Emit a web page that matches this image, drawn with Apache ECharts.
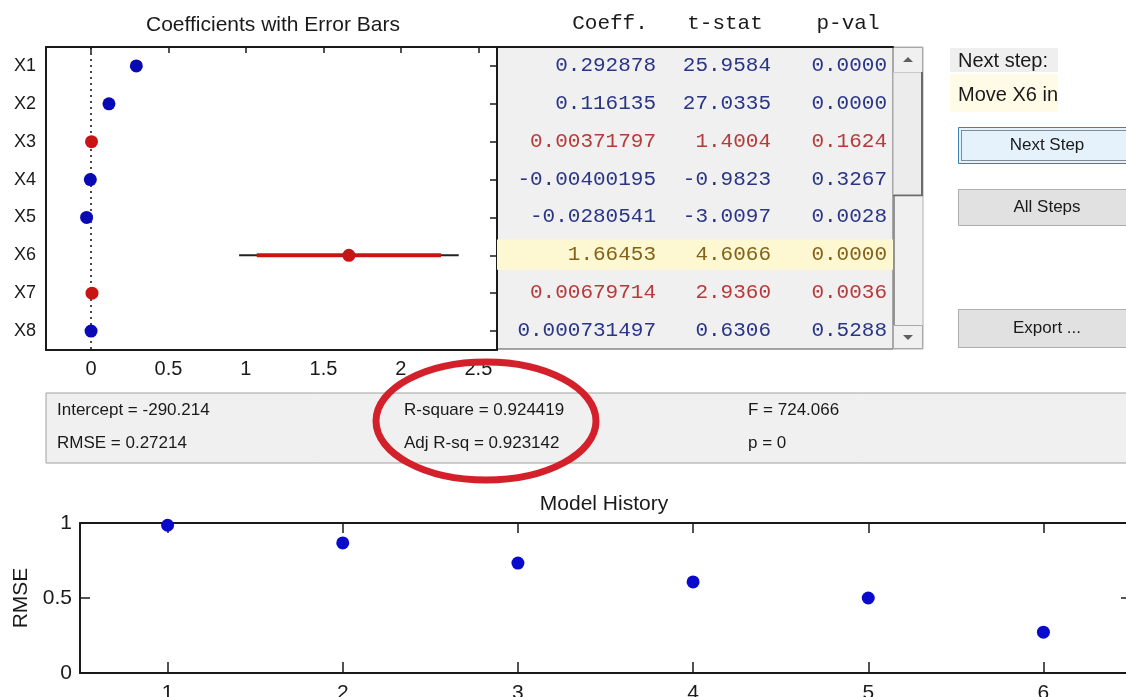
<!DOCTYPE html>
<html><head><meta charset="utf-8">
<script src="https://cdn.jsdelivr.net/npm/echarts@6/dist/echarts.min.js"></script>
<style>html,body{margin:0;padding:0;background:#fff;overflow:hidden}#c{width:1126px;height:697px}</style>
</head><body><div id="c"></div>
<script>
// ---------- data ----------
const varNames = ['X1','X2','X3','X4','X5','X6','X7','X8'];
const coeff = [0.292878, 0.116135, 0.00371797, -0.00400195, -0.0280541, 1.66453, 0.00679714, 0.000731497];
const tStat = [25.9584, 27.0335, 1.4004, -0.9823, -3.0097, 4.6066, 2.9360, 0.6306];
const pVal = [0.0000, 0.0000, 0.1624, 0.3267, 0.0028, 0.0000, 0.0036, 0.5288];
const inModel = [true, true, false, true, true, false, false, true];
const ci95Low  = [0.2708, 0.1077, -0.0015, -0.0120, -0.0463, 0.956, 0.0023, -0.0015];
const ci95High = [0.3150, 0.1245, 0.0089, 0.0040, -0.0098, 2.373, 0.0113, 0.0030];
const ci90Low  = [0.2743, 0.1091, -0.0007, -0.0107, -0.0434, 1.070, 0.0030, -0.0012];
const ci90High = [0.3114, 0.1232, 0.0081, 0.0027, -0.0127, 2.259, 0.0106, 0.0026];
const nextStepVar = 'X6';
const coefTicks = [0, 0.5, 1, 1.5, 2, 2.5];
const tableHeaders = ['Coeff.', 't-stat', 'p-val'];
const interceptVal = '-290.214';
const rmseVal = '0.27214';
const rSquareVal = '0.924419';
const adjRsqVal = '0.923142';
const fStatVal = '724.066';
const pModelVal = '0';
const historySteps = [1, 2, 3, 4, 5, 6];
const historyRMSE = [0.985, 0.867, 0.733, 0.607, 0.50, 0.27214];
const historyTicks = [1, 2, 3, 4, 5, 6];

// ---------- styles ----------
const BLUE = '#0a0ab4', RED = '#c81414';
const TXT_BLUE = '#2a3586', TXT_RED = '#b53a3a', TXT_NEXT = '#85621a';
const SANS = "'Liberation Sans',Arial,sans-serif";
const MONO = "'Courier New','Liberation Mono',monospace";
const colRightOffset = [93, 76, 60];
const headerOffset = [47, 30, 21];
const nextIdx = varNames.indexOf(nextStepVar);

const cellText = [
  coeff.map(v => String(v)),
  tStat.map(v => v.toFixed(4)),
  pVal.map(v => v.toFixed(4))
];
const tableData = [];
varNames.forEach((n, i) => tableHeaders.forEach((h, j) => tableData.push([j, i])));

const axisLineBlack = {show: true, onZero: false, lineStyle: {color: '#1a1a1a', width: 2}};
const tickStyle = {color: '#1a1a1a', width: 1.5};

const chart = echarts.init(document.getElementById('c'));

const graphics = [
  // info panel
  {type: 'rect', shape: {x: 46, y: 393, width: 1100, height: 70}, style: {fill: '#f0f0f0', stroke: '#a0a0a0', lineWidth: 1}},
  {type: 'text', x: 57, y: 410, style: {text: 'Intercept = ' + interceptVal, font: '17px ' + SANS, fill: '#1a1a1a', verticalAlign: 'middle'}},
  {type: 'text', x: 57, y: 443, style: {text: 'RMSE = ' + rmseVal, font: '17px ' + SANS, fill: '#1a1a1a', verticalAlign: 'middle'}},
  {type: 'text', x: 404, y: 410, style: {text: 'R-square = ' + rSquareVal, font: '17px ' + SANS, fill: '#1a1a1a', verticalAlign: 'middle'}},
  {type: 'text', x: 404, y: 443, style: {text: 'Adj R-sq = ' + adjRsqVal, font: '17px ' + SANS, fill: '#1a1a1a', verticalAlign: 'middle'}},
  {type: 'text', x: 748, y: 410, style: {text: 'F = ' + fStatVal, font: '17px ' + SANS, fill: '#1a1a1a', verticalAlign: 'middle'}},
  {type: 'text', x: 748, y: 443, style: {text: 'p = ' + pModelVal, font: '17px ' + SANS, fill: '#1a1a1a', verticalAlign: 'middle'}},
  // red annotation ellipse
  {type: 'ellipse', z: 100, shape: {cx: 486, cy: 421, rx: 110, ry: 59}, style: {fill: 'none', stroke: '#d3202a', lineWidth: 7}},
  // scrollbar
  {type: 'rect', shape: {x: 893, y: 47, width: 30, height: 302}, style: {fill: '#f0f0f0', stroke: '#b0b0b0', lineWidth: 1}},
  {type: 'rect', shape: {x: 893.5, y: 47.5, width: 29, height: 25}, style: {fill: '#f0f0f0', stroke: '#a8a8a8', lineWidth: 1}},
  {type: 'polygon', shape: {points: [[903, 62], [913, 62], [908, 57]]}, style: {fill: '#606060'}},
  {type: 'rect', shape: {x: 893.5, y: 72.5, width: 28, height: 122}, style: {fill: '#ececec', stroke: '#c8c8c8', lineWidth: 1}},
  {type: 'line', shape: {x1: 922, y1: 72, x2: 922, y2: 196}, style: {stroke: '#6a6a6a', lineWidth: 2}},
  {type: 'line', shape: {x1: 893, y1: 195.5, x2: 923, y2: 195.5}, style: {stroke: '#6a6a6a', lineWidth: 1.5}},
  {type: 'line', shape: {x1: 894, y1: 196, x2: 894, y2: 325}, style: {stroke: '#7a7a7a', lineWidth: 1.5}},
  {type: 'rect', shape: {x: 893.5, y: 325.5, width: 29, height: 23}, style: {fill: '#f0f0f0', stroke: '#a8a8a8', lineWidth: 1}},
  {type: 'polygon', shape: {points: [[903, 335], [913, 335], [908, 340]]}, style: {fill: '#606060'}},
  // right panel
  {type: 'rect', shape: {x: 950, y: 48, width: 108, height: 24}, style: {fill: '#efefef'}},
  {type: 'text', x: 958, y: 61, style: {text: 'Next step:', font: '20px ' + SANS, fill: '#1a1a1a', verticalAlign: 'middle'}},
  {type: 'rect', shape: {x: 950, y: 74, width: 108, height: 38}, style: {fill: '#fffbe6'}},
  {type: 'text', x: 958, y: 95, style: {text: 'Move ' + nextStepVar + ' in', font: '20px ' + SANS, fill: '#1a1a1a', verticalAlign: 'middle'}},
  {type: 'rect', shape: {x: 958.5, y: 127.5, width: 180, height: 36}, style: {fill: '#e5f1fb', stroke: '#3c7fb1', lineWidth: 1}},
  {type: 'rect', shape: {x: 961.5, y: 130.5, width: 175, height: 30}, style: {fill: 'none', stroke: '#222', lineWidth: 1, lineDash: [1, 1]}},
  {type: 'text', x: 1047, y: 145, style: {text: 'Next Step', font: '17px ' + SANS, fill: '#1a1a1a', align: 'center', verticalAlign: 'middle'}},
  {type: 'rect', shape: {x: 958.5, y: 189.5, width: 180, height: 36}, style: {fill: '#e1e1e1', stroke: '#adadad', lineWidth: 1}},
  {type: 'text', x: 1047, y: 207, style: {text: 'All Steps', font: '17px ' + SANS, fill: '#1a1a1a', align: 'center', verticalAlign: 'middle'}},
  {type: 'rect', shape: {x: 958.5, y: 309.5, width: 180, height: 38}, style: {fill: '#e1e1e1', stroke: '#adadad', lineWidth: 1}},
  {type: 'text', x: 1047, y: 328, style: {text: 'Export ...', font: '17px ' + SANS, fill: '#1a1a1a', align: 'center', verticalAlign: 'middle'}}
];

const option = {
  animation: false,
  backgroundColor: '#fff',
  title: [
    {text: 'Coefficients with Error Bars', left: 268, top: 10, textAlign: 'center',
     textStyle: {fontFamily: SANS, fontSize: 21, fontWeight: 'normal', color: '#1a1a1a'}},
    {text: 'Model History', left: 599, top: 489, textAlign: 'center',
     textStyle: {fontFamily: SANS, fontSize: 21, fontWeight: 'normal', color: '#1a1a1a'}}
  ],
  grid: [
    {left: 46, top: 47, width: 451, height: 303, containLabel: false, outerBoundsMode: 'none'},
    {left: 497, top: 47, width: 396, height: 302, show: true, backgroundColor: '#f0f0f0', borderColor: '#505050', borderWidth: 1, outerBoundsMode: 'none'},
    {left: 80, top: 523, width: 1051, height: 150, containLabel: false, outerBoundsMode: 'none'}
  ],
  xAxis: [
    {gridIndex: 0, type: 'value', min: -0.29, max: 2.62, position: 'bottom', axisLine: axisLineBlack,
     axisTick: {show: false}, splitLine: {show: false},
     axisLabel: {customValues: coefTicks, margin: 9, color: '#1a1a1a', fontFamily: SANS, fontSize: 20}},
    {gridIndex: 0, type: 'value', min: -0.29, max: 2.62, position: 'top', axisLine: axisLineBlack,
     axisTick: {show: true, inside: true, length: 6, customValues: coefTicks, lineStyle: tickStyle},
     axisLabel: {show: false}, splitLine: {show: false}},
    {gridIndex: 1, type: 'category', data: tableHeaders, position: 'top', axisLine: axisLineBlack,
     axisTick: {show: false}, axisLabel: {show: false}, splitLine: {show: false}},
    {gridIndex: 2, type: 'value', min: 0.5, max: 6.5, position: 'bottom', axisLine: axisLineBlack,
     axisTick: {show: true, inside: true, length: 11, customValues: historyTicks, lineStyle: tickStyle},
     axisLabel: {customValues: historyTicks, margin: 10, color: '#1a1a1a', fontFamily: SANS, fontSize: 21},
     splitLine: {show: false}},
    {gridIndex: 2, type: 'value', min: 0.5, max: 6.5, position: 'top', axisLine: axisLineBlack,
     axisTick: {show: true, inside: true, length: 10, customValues: historyTicks, lineStyle: tickStyle},
     axisLabel: {show: false}, splitLine: {show: false}}
  ],
  yAxis: [
    {gridIndex: 0, type: 'category', data: varNames, inverse: true, position: 'left', axisLine: axisLineBlack,
     axisTick: {show: false}, axisLabel: {margin: 10, color: '#1a1a1a', fontFamily: SANS, fontSize: 18}},
    {gridIndex: 0, type: 'category', data: varNames, inverse: true, position: 'right', axisLine: axisLineBlack,
     axisTick: {show: true, inside: true, alignWithLabel: true, length: 7, lineStyle: tickStyle},
     axisLabel: {show: false}},
    {gridIndex: 1, type: 'category', data: varNames, inverse: true, show: false},
    {gridIndex: 2, type: 'value', min: 0, max: 1, interval: 0.5, position: 'left', axisLine: axisLineBlack,
     axisTick: {show: true, inside: true, length: 10, lineStyle: tickStyle},
     axisLabel: {margin: 8, color: '#1a1a1a', fontFamily: SANS, fontSize: 21},
     splitLine: {show: false},
     name: 'RMSE', nameLocation: 'middle', nameRotate: 90, nameGap: 46,
     nameTextStyle: {fontFamily: SANS, fontSize: 21, color: '#1a1a1a'}},
    {gridIndex: 2, type: 'value', min: 0, max: 1, interval: 0.5, position: 'right', axisLine: axisLineBlack,
     axisTick: {show: true, inside: true, length: 10, lineStyle: tickStyle},
     axisLabel: {show: false}, splitLine: {show: false}}
  ],
  series: [
    // error bars
    {type: 'custom', xAxisIndex: 0, yAxisIndex: 0, z: 3,
     data: varNames.map((n, i) => [ci95Low[i], ci95High[i], ci90Low[i], ci90High[i], i]),
     encode: {x: [0, 1, 2, 3], y: 4},
     renderItem(params, api) {
       const row = api.value(4);
       const a = api.coord([api.value(0), row]), b = api.coord([api.value(1), row]);
       const c = api.coord([api.value(2), row]), d = api.coord([api.value(3), row]);
       const col = inModel[params.dataIndex] ? BLUE : RED;
       return {type: 'group', children: [
         {type: 'line', shape: {x1: a[0], y1: a[1], x2: b[0], y2: b[1]}, style: {stroke: '#222', lineWidth: 2}},
         {type: 'line', shape: {x1: c[0], y1: c[1], x2: d[0], y2: d[1]}, style: {stroke: col, lineWidth: 4}}
       ]};
     }},
    // coefficient points
    {type: 'scatter', xAxisIndex: 0, yAxisIndex: 0, z: 4, symbolSize: 13,
     data: coeff.map((v, i) => ({value: [v, i], itemStyle: {color: inModel[i] ? BLUE : RED, opacity: 1}})),
     markLine: {silent: true, symbol: 'none', label: {show: false}, z: 2,
       lineStyle: {color: '#111', width: 1.5, type: [2, 4]}, data: [{xAxis: 0}]}},
    // table highlight row
    {type: 'custom', xAxisIndex: 2, yAxisIndex: 2, z: 1,
     data: [[0, nextIdx]], encode: {x: 0, y: 1},
     renderItem(params, api) {
       const p = api.coord([0, api.value(1)]);
       const h = api.size([0, 1])[1] * 0.8;
       const cs = params.coordSys;
       return {type: 'rect', shape: {x: cs.x, y: p[1] - h / 2, width: cs.width, height: h}, style: {fill: '#fdf8d2'}};
     }},
    // table cells
    {type: 'custom', xAxisIndex: 2, yAxisIndex: 2, z: 5,
     data: tableData, encode: {x: 0, y: 1},
     renderItem(params, api) {
       const j = api.value(0), i = api.value(1);
       const p = api.coord([j, i]);
       const color = i === nextIdx ? TXT_NEXT : (inModel[i] ? TXT_BLUE : TXT_RED);
       const children = [{type: 'text', x: p[0] + colRightOffset[j], y: p[1],
         style: {text: cellText[j][i], fill: color, fontFamily: MONO, fontSize: 21, align: 'right', verticalAlign: 'middle'}}];
       if (i === 0) {
         children.push({type: 'text', x: p[0] + headerOffset[j], y: p[1] - 42,
           style: {text: tableHeaders[j], fill: '#1a1a1a', fontFamily: MONO, fontSize: 21, align: 'center', verticalAlign: 'middle'}});
       }
       return {type: 'group', children};
     }},
    // model history
    {type: 'scatter', xAxisIndex: 3, yAxisIndex: 3, symbolSize: 13, z: 4,
     itemStyle: {color: '#0a0acd', opacity: 1},
     data: historySteps.map((s, i) => [s, historyRMSE[i]])}
  ],
  graphic: graphics
};
chart.setOption(option);
</script>
</body></html>
